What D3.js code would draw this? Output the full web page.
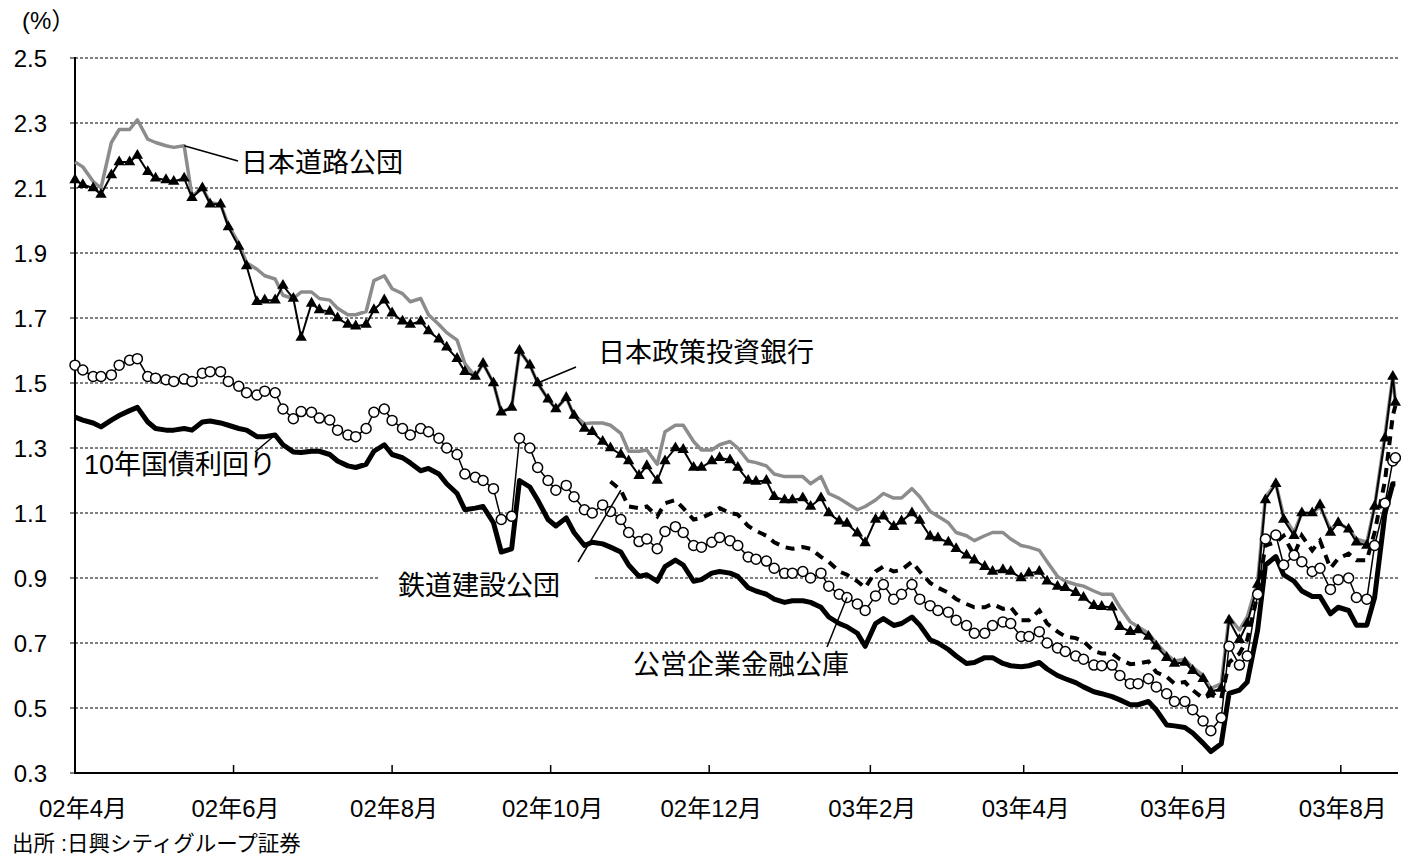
<!DOCTYPE html>
<html>
<head>
<meta charset="utf-8">
<script src="https://cdn.jsdelivr.net/npm/d3@7"></script>
<style>
  body { margin: 0; background: #fff; }
  svg { display: block; font-family: "Liberation Sans", Arial, "Noto Sans CJK JP", sans-serif; }
  .grid line { stroke: #000; stroke-width: 1; stroke-dasharray: 3 2; }
  .axis-line { stroke: #000; stroke-width: 2; }
  .tick-label { font-size: 24px; fill: #000; }
  .note { font-size: 27px; fill: #000; }
  .leader { stroke: #000; stroke-width: 1.5; }
</style>
</head>
<body>
<div id="chart"></div>
<script>
// sample dates (twice a week)
const dates = [
  "2002-04-01","2002-04-04","2002-04-08","2002-04-11","2002-04-15","2002-04-18","2002-04-22","2002-04-25","2002-04-29","2002-05-02",
  "2002-05-06","2002-05-09","2002-05-13","2002-05-16","2002-05-20","2002-05-23","2002-05-27","2002-05-30","2002-06-03","2002-06-06",
  "2002-06-10","2002-06-13","2002-06-17","2002-06-20","2002-06-24","2002-06-27","2002-07-01","2002-07-04","2002-07-08","2002-07-11",
  "2002-07-15","2002-07-18","2002-07-22","2002-07-25","2002-07-29","2002-08-01","2002-08-05","2002-08-08","2002-08-12","2002-08-15",
  "2002-08-19","2002-08-22","2002-08-26","2002-08-29","2002-09-02","2002-09-05","2002-09-09","2002-09-12","2002-09-16","2002-09-19",
  "2002-09-23","2002-09-26","2002-09-30","2002-10-03","2002-10-07","2002-10-10","2002-10-14","2002-10-17","2002-10-21","2002-10-24",
  "2002-10-28","2002-10-31","2002-11-04","2002-11-07","2002-11-11","2002-11-14","2002-11-18","2002-11-21","2002-11-25","2002-11-28",
  "2002-12-02","2002-12-05","2002-12-09","2002-12-12","2002-12-16","2002-12-19","2002-12-23","2002-12-26","2002-12-30","2003-01-02",
  "2003-01-06","2003-01-09","2003-01-13","2003-01-16","2003-01-20","2003-01-23","2003-01-27","2003-01-30","2003-02-03","2003-02-06",
  "2003-02-10","2003-02-13","2003-02-17","2003-02-20","2003-02-24","2003-02-27","2003-03-03","2003-03-06","2003-03-10","2003-03-13",
  "2003-03-17","2003-03-20","2003-03-24","2003-03-27","2003-03-31","2003-04-03","2003-04-07","2003-04-10","2003-04-14","2003-04-17",
  "2003-04-21","2003-04-24","2003-04-28","2003-05-01","2003-05-05","2003-05-08","2003-05-12","2003-05-15","2003-05-19","2003-05-22",
  "2003-05-26","2003-05-29","2003-06-02","2003-06-05","2003-06-09","2003-06-12","2003-06-16","2003-06-19","2003-06-23","2003-06-26",
  "2003-06-30","2003-07-03","2003-07-07","2003-07-10","2003-07-14","2003-07-17","2003-07-21","2003-07-24","2003-07-28","2003-07-31",
  "2003-08-04","2003-08-07","2003-08-11","2003-08-14","2003-08-18","2003-08-21","2003-08-22"
];

// 日本道路公団
const jhpc = [
  2.18, 2.165, 2.12, 2.10, 2.24, 2.28, 2.28, 2.31, 2.25, 2.24,
  2.23, 2.225, 2.23, 2.075, 2.10, 2.055, 2.05, 1.985, 1.93, 1.87,
  1.85, 1.83, 1.82, 1.77, 1.76, 1.78, 1.78, 1.76, 1.755, 1.73,
  1.71, 1.71, 1.72, 1.815, 1.83, 1.79, 1.775, 1.75, 1.76, 1.71,
  1.68, 1.655, 1.632, 1.56, 1.52, 1.56, 1.50, 1.41, 1.425, 1.60,
  1.555, 1.50, 1.45, 1.42, 1.455, 1.40, 1.375, 1.377, 1.377, 1.37,
  1.345, 1.29, 1.29, 1.294, 1.25, 1.35, 1.37, 1.37, 1.32, 1.294,
  1.294, 1.31, 1.32, 1.30, 1.26, 1.255, 1.245, 1.22, 1.212, 1.212,
  1.212, 1.19, 1.212, 1.16, 1.145, 1.13, 1.11, 1.12, 1.14, 1.16,
  1.146, 1.146, 1.175, 1.15, 1.105, 1.09, 1.07, 1.04, 1.03, 1.015,
  1.03, 1.04, 1.04, 1.02, 1.00, 0.995, 0.985, 0.95, 0.905, 0.89,
  0.88, 0.875, 0.86, 0.85, 0.85, 0.81, 0.765, 0.75, 0.73, 0.70,
  0.665, 0.645, 0.65, 0.625, 0.60, 0.56, 0.575, 0.78, 0.74, 0.78,
  0.89, 1.15, 1.19, 1.09, 1.04, 1.10, 1.10, 1.12, 1.05, 1.07,
  1.05, 1.02, 1.01, 1.12, 1.34, 1.52, 1.44
];

// 日本政策投資銀行
const dbj = [
  2.125, 2.11, 2.10, 2.08, 2.14, 2.18, 2.18, 2.20, 2.15, 2.13,
  2.125, 2.12, 2.13, 2.07, 2.10, 2.05, 2.05, 1.98, 1.92, 1.86,
  1.75, 1.755, 1.755, 1.80, 1.76, 1.64, 1.745, 1.725, 1.72, 1.70,
  1.68, 1.675, 1.68, 1.725, 1.755, 1.715, 1.69, 1.68, 1.69, 1.66,
  1.635, 1.61, 1.575, 1.535, 1.52, 1.56, 1.50, 1.41, 1.425, 1.60,
  1.555, 1.50, 1.45, 1.42, 1.455, 1.40, 1.36, 1.35, 1.32, 1.30,
  1.28, 1.26, 1.215, 1.245, 1.20, 1.26, 1.30, 1.295, 1.24, 1.24,
  1.26, 1.27, 1.263, 1.24, 1.20, 1.197, 1.20, 1.15, 1.14, 1.14,
  1.146, 1.12, 1.146, 1.10, 1.075, 1.068, 1.038, 1.008, 1.08, 1.09,
  1.058, 1.075, 1.10, 1.077, 1.028, 1.023, 1.01, 0.99, 0.97, 0.955,
  0.935, 0.92, 0.925, 0.92, 0.90, 0.915, 0.92, 0.89, 0.874, 0.87,
  0.855, 0.84, 0.815, 0.812, 0.81, 0.75, 0.735, 0.74, 0.72, 0.69,
  0.655, 0.637, 0.64, 0.615, 0.59, 0.55, 0.56, 0.77, 0.71, 0.76,
  0.88, 1.14, 1.19, 1.08, 1.03, 1.10, 1.10, 1.125, 1.04, 1.07,
  1.05, 1.01, 1.00, 1.12, 1.33, 1.52, 1.44
];

// 公営企業金融公庫
const koei = [
  1.555, 1.54, 1.52, 1.52, 1.525, 1.555, 1.57, 1.575, 1.52, 1.515,
  1.51, 1.505, 1.512, 1.505, 1.53, 1.535, 1.535, 1.505, 1.49, 1.47,
  1.463, 1.475, 1.47, 1.42, 1.39, 1.412, 1.41, 1.392, 1.386, 1.355,
  1.34, 1.335, 1.36, 1.41, 1.42, 1.385, 1.36, 1.34, 1.36, 1.35,
  1.33, 1.30, 1.28, 1.22, 1.21, 1.20, 1.175, 1.08, 1.09, 1.33,
  1.30, 1.24, 1.20, 1.17, 1.185, 1.15, 1.11, 1.10, 1.125, 1.105,
  1.08, 1.04, 1.012, 1.02, 0.99, 1.043, 1.058, 1.04, 1.00, 0.995,
  1.01, 1.025, 1.015, 1.00, 0.965, 0.958, 0.952, 0.93, 0.915, 0.915,
  0.92, 0.90, 0.915, 0.875, 0.85, 0.84, 0.82, 0.80, 0.845, 0.88,
  0.835, 0.85, 0.88, 0.835, 0.815, 0.80, 0.795, 0.77, 0.754, 0.73,
  0.73, 0.754, 0.765, 0.76, 0.72, 0.72, 0.735, 0.70, 0.685, 0.674,
  0.66, 0.65, 0.632, 0.63, 0.632, 0.60, 0.575, 0.575, 0.59, 0.565,
  0.544, 0.52, 0.52, 0.495, 0.46, 0.43, 0.47, 0.69, 0.632, 0.66,
  0.85, 1.02, 1.032, 0.94, 0.97, 0.95, 0.92, 0.93, 0.865, 0.895,
  0.90, 0.84, 0.835, 1.00, 1.13, 1.26, 1.27
];

// 10年国債利回り
const jgb = [
  1.395, 1.386, 1.377, 1.365, 1.386, 1.40, 1.415, 1.425, 1.38, 1.36,
  1.355, 1.355, 1.36, 1.355, 1.38, 1.383, 1.377, 1.37, 1.36, 1.355,
  1.335, 1.335, 1.34, 1.31, 1.288, 1.286, 1.29, 1.29, 1.28, 1.26,
  1.245, 1.24, 1.25, 1.29, 1.31, 1.28, 1.27, 1.254, 1.23, 1.237,
  1.22, 1.19, 1.16, 1.11, 1.115, 1.12, 1.07, 0.98, 0.99, 1.20,
  1.18, 1.14, 1.08, 1.06, 1.085, 1.04, 1.00, 1.01, 1.005, 0.995,
  0.98, 0.94, 0.905, 0.91, 0.89, 0.935, 0.955, 0.94, 0.89, 0.895,
  0.915, 0.92, 0.915, 0.905, 0.87, 0.86, 0.85, 0.835, 0.825, 0.83,
  0.83, 0.825, 0.81, 0.78, 0.76, 0.75, 0.73, 0.69, 0.76, 0.775,
  0.754, 0.76, 0.78, 0.755, 0.71, 0.70, 0.68, 0.66, 0.637, 0.64,
  0.655, 0.655, 0.637, 0.63, 0.627, 0.63, 0.64, 0.62, 0.60, 0.59,
  0.578, 0.565, 0.55, 0.544, 0.535, 0.525, 0.51, 0.51, 0.52, 0.494,
  0.448, 0.445, 0.44, 0.423, 0.392, 0.366, 0.39, 0.545, 0.555, 0.58,
  0.74, 0.94, 0.966, 0.91, 0.89, 0.86, 0.843, 0.843, 0.79, 0.81,
  0.80, 0.755, 0.755, 0.84, 1.10, 1.19, 1.19
];

// 鉄道建設公団 (series starts late)
const jrttStart = "2002-10-24";
const jrtt = [
  1.197,
  1.17, 1.12, 1.115, 1.12, 1.09, 1.13, 1.14, 1.115, 1.08, 1.085,
  1.10, 1.115, 1.10, 1.095, 1.06, 1.045, 1.03, 1.01, 0.995, 0.99,
  0.995, 0.99, 0.965, 0.95, 0.92, 0.91, 0.89, 0.87, 0.92, 0.935,
  0.92, 0.925, 0.95, 0.92, 0.885, 0.87, 0.855, 0.835, 0.82, 0.81,
  0.81, 0.82, 0.805, 0.81, 0.77, 0.77, 0.80, 0.76, 0.735, 0.72,
  0.715, 0.705, 0.675, 0.668, 0.668, 0.65, 0.635, 0.637, 0.643, 0.61,
  0.596, 0.575, 0.58, 0.555, 0.53, 0.54, 0.53, 0.64, 0.668, 0.71,
  0.85, 1.00, 1.01, 1.03, 0.97, 1.03, 0.985, 1.015, 0.93, 0.96,
  0.975, 0.955, 0.955, 1.04, 1.20, 1.40, 1.43
];

const xTicks = ["2002-04-01","2002-06-01","2002-08-01","2002-10-01","2002-12-01",
                "2003-02-01","2003-04-01","2003-06-01","2003-08-01"];
const yTicks = [0.3, 0.5, 0.7, 0.9, 1.1, 1.3, 1.5, 1.7, 1.9, 2.1, 2.3, 2.5];

const width = 1401, height = 857;
const margin = { top: 58, right: 3, bottom: 84, left: 75 };
const parse = d3.timeParse("%Y-%m-%d");

const x = d3.scaleTime()
  .domain([parse("2002-04-01"), parse("2003-08-23")])
  .range([margin.left, width - margin.right]);
const y = d3.scaleLinear()
  .domain([0.3, 2.5])
  .range([height - margin.bottom, margin.top]);

const toPoints = (vals, start) => {
  const offset = dates.indexOf(start || dates[0]);
  return vals.map((v, i) => ({ date: parse(dates[offset + i]), v }));
};

const series = {
  jhpc: toPoints(jhpc),
  dbj: toPoints(dbj),
  koei: toPoints(koei),
  jgb: toPoints(jgb),
  jrtt: toPoints(jrtt, jrttStart),
};

const svg = d3.select("#chart").append("svg")
  .attr("width", width)
  .attr("height", height)
  .attr("viewBox", [0, 0, width, height]);

const line = d3.line().x((d) => x(d.date)).y((d) => y(d.v));

// grid
svg.append("g").attr("class", "grid")
  .selectAll("line")
  .data(yTicks.slice(1))
  .join("line")
  .attr("x1", margin.left)
  .attr("x2", width - margin.right)
  .attr("y1", (d) => y(d))
  .attr("y2", (d) => y(d));

// label background for 鉄道建設公団 (hides the gridline)
svg.append("rect")
  .attr("x", 378).attr("y", 566)
  .attr("width", 216).attr("height", 36)
  .attr("fill", "#fff");

// y axis
const gy = svg.append("g");
gy.append("line").attr("class", "axis-line")
  .attr("x1", margin.left).attr("x2", margin.left)
  .attr("y1", margin.top - 1).attr("y2", y(0.3) + 1);
gy.selectAll(".tick-label")
  .data(yTicks)
  .join("text")
  .attr("class", "tick-label")
  .attr("x", 47)
  .attr("y", (d) => y(d))
  .attr("dy", "0.36em")
  .attr("text-anchor", "end")
  .text(d3.format(".1f"));
gy.selectAll(".ytick")
  .data(yTicks)
  .join("line")
  .attr("class", "ytick")
  .attr("stroke", "#000")
  .attr("x1", margin.left - 5).attr("x2", margin.left)
  .attr("y1", (d) => y(d)).attr("y2", (d) => y(d));

// x axis
const gx = svg.append("g");
gx.append("line").attr("class", "axis-line")
  .attr("x1", margin.left - 1).attr("x2", width - margin.right)
  .attr("y1", y(0.3)).attr("y2", y(0.3));
const monthLabel = (d) => d3.timeFormat("%y")(d) + "年" + (d.getMonth() + 1) + "月";
gx.selectAll(".xtick")
  .data(xTicks.map(parse))
  .join("line")
  .attr("class", "xtick")
  .attr("stroke", "#000")
  .attr("stroke-width", 1.5)
  .attr("x1", (d) => x(d)).attr("x2", (d) => x(d))
  .attr("y1", y(0.3) - 8).attr("y2", y(0.3));
gx.selectAll(".tick-label")
  .data(xTicks.map(parse))
  .join("text")
  .attr("class", "tick-label")
  .attr("x", (d, i) => x(d) + (i === 0 ? 8 : 2))
  .attr("y", 817)
  .attr("text-anchor", "middle")
  .text(monthLabel);

// series
svg.append("path")
  .datum(series.jhpc)
  .attr("fill", "none")
  .attr("stroke", "#8c8c8c")
  .attr("stroke-width", 3.5)
  .attr("stroke-linejoin", "round")
  .attr("d", line);

svg.append("path")
  .datum(series.jgb)
  .attr("fill", "none")
  .attr("stroke", "#000")
  .attr("stroke-width", 5)
  .attr("stroke-linejoin", "round")
  .attr("d", line);

svg.append("path")
  .datum(series.jrtt)
  .attr("fill", "none")
  .attr("stroke", "#000")
  .attr("stroke-width", 4)
  .attr("stroke-dasharray", "9 7")
  .attr("d", line);

svg.append("path")
  .datum(series.dbj)
  .attr("fill", "none")
  .attr("stroke", "#000")
  .attr("stroke-width", 2)
  .attr("d", line);
svg.append("g")
  .selectAll("path")
  .data(series.dbj)
  .join("path")
  .attr("transform", (d) => `translate(${x(d.date)},${y(d.v)})`)
  .attr("d", d3.symbol(d3.symbolTriangle, 56))
  .attr("fill", "#000");

svg.append("path")
  .datum(series.koei)
  .attr("fill", "none")
  .attr("stroke", "#000")
  .attr("stroke-width", 1.5)
  .attr("d", line);
svg.append("g")
  .selectAll("circle")
  .data(series.koei)
  .join("circle")
  .attr("cx", (d) => x(d.date))
  .attr("cy", (d) => y(d.v))
  .attr("r", 5)
  .attr("fill", "#fff")
  .attr("stroke", "#000")
  .attr("stroke-width", 1.5);

// annotations: label position and where its leader touches the line
const notes = [
  { text: "日本道路公団", tx: 241, ty: 162, end: [238, 161], data: series.jhpc, date: "2002-05-13" },
  { text: "日本政策投資銀行", tx: 598, ty: 352, end: [576, 367], data: series.dbj, date: "2002-09-26" },
  { text: "10年国債利回り", tx: 84, ty: 464, end: [255, 452], data: series.jgb, date: "2002-06-17" },
  { text: "鉄道建設公団", tx: 398, ty: 585, end: [578, 562], data: series.jrtt, date: "2002-10-28" },
  { text: "公営企業金融公庫", tx: 633, ty: 664, end: [827, 647], data: series.koei, date: "2003-01-23" },
];

notes.forEach((n) => {
  const p = n.data.find((d) => +d.date === +parse(n.date));
  svg.append("line").attr("class", "leader")
    .attr("x1", x(p.date)).attr("y1", y(p.v))
    .attr("x2", n.end[0]).attr("y2", n.end[1]);
  svg.append("text").attr("class", "note")
    .attr("x", n.tx).attr("y", n.ty)
    .attr("dy", "0.36em")
    .text(n.text);
});

svg.append("text")
  .attr("x", 22).attr("y", 29)
  .attr("font-size", 24)
  .text("(%）");

svg.append("text")
  .attr("x", 12).attr("y", 851)
  .attr("font-size", 21.5)
  .text("出所 :日興シティグループ証券");
</script>
</body>
</html>
